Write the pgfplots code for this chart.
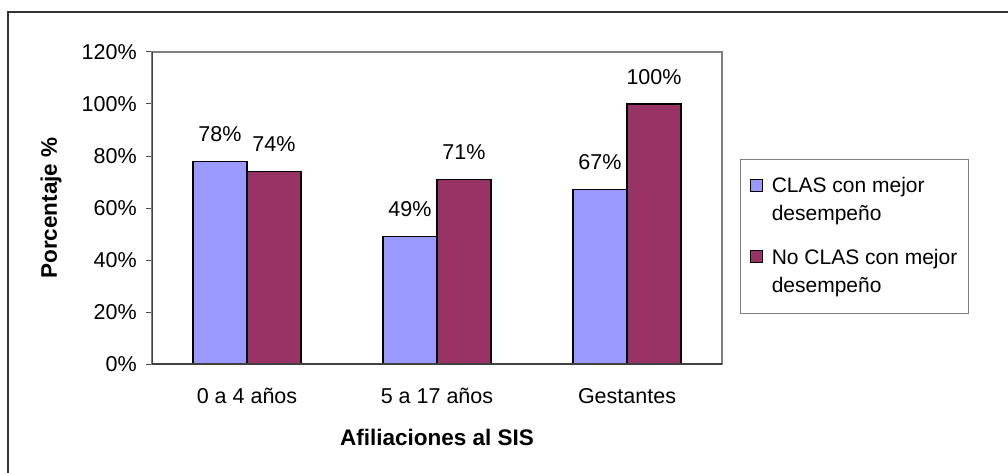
\documentclass[border=0pt]{standalone}
\usepackage{pgfplots}
\pgfplotsset{compat=1.18}
\usepackage{fontspec}
\setmainfont{Liberation Sans}
\definecolor{cblue}{HTML}{9999FF}
\definecolor{cmaroon}{HTML}{993366}
\begin{document}
\begin{tikzpicture}[x=1pt,y=1pt]
\fontsize{21.5}{28}\selectfont
\useasboundingbox (0,0) rectangle (1008,472);
\draw[black!80, line width=1.3pt] (8,-20) -- (8,460) -- (1030,460);
\begin{axis}[
  at={(152pt,108pt)}, anchor=south west,
  scale only axis, width=570pt, height=312pt,
  font=\fontsize{21.5}{28}\selectfont,
  /pgf/number format/assume math mode=true,
  ybar,
  xmin=-0.5, xmax=2.5, ymin=0, ymax=120,
  xtick={0,1,2},
  xticklabels={0 a 4 años, 5 a 17 años, Gestantes},
  x tick style={draw=none},
  xticklabel style={yshift=-11pt},
  extra x ticks={-0.5,0.5,1.5,2.5},
  extra x tick labels={},
  extra x tick style={tick style={draw=black!70, line width=1pt}, major tick length=7pt},
  ytick={0,20,40,60,80,100,120},
  yticklabels={0\%,20\%,40\%,60\%,80\%,100\%,120\%},
  yticklabel style={xshift=-2pt},
  ytick pos=left, xtick pos=bottom,
  tick align=outside,
  major tick length=6pt,
  y tick style={draw=black!70, line width=1pt},
  axis line style={draw=black!50, line width=1.2pt},
  xlabel={\fontsize{22.5}{28}\selectfont\bfseries Afiliaciones al SIS},
  ylabel={\fontsize{22.5}{28}\selectfont\bfseries Porcentaje \%},
  x label style={at={(axis description cs:0.5,0)}, anchor=center, yshift=-73pt},
  y label style={at={([xshift=-101pt]axis description cs:0,0.5)}, anchor=center},
  bar width=54pt,
  nodes near coords={\pgfmathprintnumber{\pgfplotspointmeta}\%},
  every node near coord/.append style={anchor=south, inner sep=0pt, yshift=19pt, text=black},
  legend style={at={(1,0.5)}, anchor=west, xshift=18pt, yshift=-28.5pt,
    draw=black!50, line width=1.1pt, inner xsep=9pt, inner ysep=16pt,
    row sep=21pt, column sep=7pt, font=\fontsize{21}{28}\selectfont,
    cells={align=left, anchor=base west}},
  legend image code/.code={\draw[#1, line width=1.2pt] (0pt,29.5pt) rectangle (12pt,41.5pt);},
]
\addplot[bar shift=-27pt, fill=cblue, draw=black, line width=1.3pt] coordinates {(0,78) (1,49) (2,67)};
\addplot[bar shift=27pt, fill=cmaroon, draw=black, line width=1.3pt] coordinates {(0,74) (1,71) (2,100)};
\legend{CLAS con mejor\\desempeño, No CLAS con mejor\\desempeño}
\draw[black!75, line width=1.2pt] (rel axis cs:0,1) -- (rel axis cs:0,0) -- (rel axis cs:1,0);
\end{axis}
\end{tikzpicture}
\end{document}
